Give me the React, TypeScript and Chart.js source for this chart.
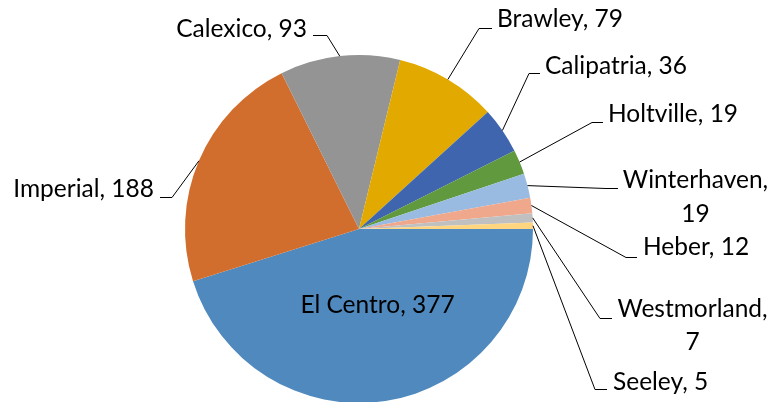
import React, { useEffect, useRef } from "react";
import { Chart, registerables } from "chart.js";

Chart.register(...registerables);

// ---- data ----
const CITIES = [
  "El Centro",
  "Imperial",
  "Calexico",
  "Brawley",
  "Calipatria",
  "Holtville",
  "Winterhaven",
  "Heber",
  "Westmorland",
  "Seeley",
];
const COUNTS = [377, 188, 93, 79, 36, 19, 19, 12, 7, 5];
const COLORS = [
  "#4F89BE",
  "#D26E2D",
  "#949494",
  "#E2AA00",
  "#3E65AE",
  "#61993E",
  "#99BAE1",
  "#F0A88C",
  "#C0C0C0",
  "#FFD580",
];

// ---- label layout (positions only) ----
type Layout = {
  align: "left" | "right" | "center";
  x: number;
  y: number[];
  wrap?: boolean;
  leader?: [number, number, number, number]; // start x,y then elbow x,y
};
const LABEL_LAYOUT: Layout[] = [
  { align: "center", x: 377.5, y: [313] },
  { align: "right", x: 154, y: [197], leader: [160, 197, 172, 197] },
  { align: "right", x: 307, y: [37], leader: [313, 35, 327, 35] },
  { align: "left", x: 497, y: [27], leader: [492, 28, 479, 28] },
  { align: "left", x: 545, y: [74], leader: [540, 73, 529, 73] },
  { align: "left", x: 608, y: [122], leader: [603, 122, 592, 122] },
  { align: "center", x: 695.5, y: [188, 222], wrap: true, leader: [618, 188, 606, 188] },
  { align: "left", x: 643, y: [255], leader: [637, 257, 626, 257] },
  { align: "center", x: 692.5, y: [317, 350], wrap: true, leader: [612, 318, 600, 318] },
  { align: "left", x: 613, y: [390], leader: [607, 389, 595, 389] },
];

const FONT = "24.5px Lato";

const labelPlugin = {
  id: "pieLabels",
  afterDraw(chart: any) {
    const ctx = chart.ctx as CanvasRenderingContext2D;
    const meta = chart.getDatasetMeta(0);
    ctx.save();
    ctx.font = FONT;
    ctx.fillStyle = "#000";
    ctx.strokeStyle = "#000";
    ctx.lineWidth = 1;
    ctx.textBaseline = "alphabetic";
    meta.data.forEach((arc: any, i: number) => {
      const lay = LABEL_LAYOUT[i];
      if (!lay) return;
      const p = arc.getProps(["x", "y", "startAngle", "endAngle", "outerRadius"], true);
      const mid = (p.startAngle + p.endAngle) / 2;
      const ex = p.x + Math.cos(mid) * p.outerRadius;
      const ey = p.y + Math.sin(mid) * p.outerRadius;
      if (lay.leader) {
        const [sx, sy, bx, by] = lay.leader;
        ctx.beginPath();
        ctx.moveTo(sx, sy + 0.5);
        ctx.lineTo(bx, by + 0.5);
        ctx.lineTo(ex, ey);
        ctx.stroke();
      }
      const name = chart.data.labels[i];
      const val = chart.data.datasets[0].data[i];
      const lines = lay.wrap ? [name + ",", String(val)] : [name + ", " + val];
      ctx.textAlign = lay.align;
      lines.forEach((t, k) => ctx.fillText(t, lay.x, lay.y[k]));
    });
    ctx.restore();
  },
};

export default function App() {
  const ref = useRef<HTMLCanvasElement | null>(null);
  useEffect(() => {
    if (!ref.current) return;
    const chart = new Chart(ref.current, {
      type: "pie",
      data: {
        labels: CITIES,
        datasets: [
          {
            data: COUNTS,
            backgroundColor: COLORS,
            borderWidth: 0,
          },
        ],
      },
      options: {
        responsive: false,
        animation: false,
        rotation: 90,
        layout: { padding: { left: 185, right: 239, top: 55, bottom: 7 } },
        plugins: {
          legend: { display: false },
          tooltip: { enabled: false },
        },
        events: [],
      },
      plugins: [labelPlugin],
    });
    return () => chart.destroy();
  }, []);
  return (
    <div
      style={{
        position: "absolute",
        left: 0,
        top: 0,
        width: 772,
        height: 402,
        overflow: "hidden",
        background: "#fff",
      }}
    >
      <canvas ref={ref} width={772} height={410} style={{ display: "block" }} />
    </div>
  );
}
